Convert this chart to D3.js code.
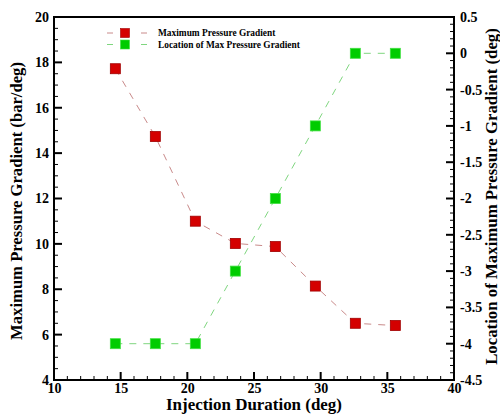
<!DOCTYPE html>
<html><head><meta charset="utf-8">
<script src="https://cdn.jsdelivr.net/npm/d3@7"></script>
<style>body{margin:0;background:#fff}svg{display:block}text{font-family:"Liberation Serif","Times New Roman",serif;font-weight:bold}</style>
</head><body>
<script>
const injection = [14.6, 17.6, 20.6, 23.6, 26.6, 29.6, 32.6, 35.6];
const maxGradient = [17.72, 14.73, 11.0, 10.02, 9.88, 8.14, 6.5, 6.4];
const locationMax = [-4, -4, -4, -3, -2, -1, 0, 0];
const seriesNames = ["Maximum Pressure Gradient", "Location of Max Pressure Gradient"];
const xTicks = [10, 15, 20, 25, 30, 35, 40];
const yLeftTicks = [4, 6, 8, 10, 12, 14, 16, 18, 20];
const yRightTicks = [0.5, 0, -0.5, -1, -1.5, -2, -2.5, -3, -3.5, -4, -4.5];

const W = 500, H = 416;
const m = {l: 54, r: 46, t: 17, b: 36};
const svg = d3.select("body").append("svg").attr("width", W).attr("height", H);
const x = d3.scaleLinear().domain([10, 40]).range([m.l, W - m.r]);
const yL = d3.scaleLinear().domain([4, 20]).range([H - m.b, m.t]);
const yR = d3.scaleLinear().domain([-4.5, 0.5]).range([H - m.b, m.t]);

// minor/major inward ticks
const g = svg.append("g");
d3.range(10, 40.001, 1).forEach(v => {
  const major = Math.abs(v % 5) < 1e-6;
  g.append("line").attr("x1", x(v)).attr("x2", x(v)).attr("y1", yL(4)).attr("y2", yL(4) - (major ? 8 : 4)).attr("stroke", "#000").attr("stroke-width", major ? 2 : 1);
});
d3.range(4, 20.001, 0.5).forEach(v => {
  const major = Math.abs(v % 2) < 1e-6;
  g.append("line").attr("x1", x(10)).attr("x2", x(10) + (major ? 8 : 4)).attr("y1", yL(v)).attr("y2", yL(v)).attr("stroke", "#000").attr("stroke-width", major ? 2 : 1);
});
d3.range(-4.5, 0.5001, 0.1).forEach(v => {
  const k = Math.round(v * 10);
  const major = k % 5 === 0;
  g.append("line").attr("x1", x(40)).attr("x2", x(40) - (major ? 8 : 4)).attr("y1", yR(v)).attr("y2", yR(v)).attr("stroke", "#000").attr("stroke-width", major ? 2 : 1);
});

// tick labels via d3 axes
const fmt = d => String(d);
const ax = svg.append("g").attr("transform", `translate(0,${H - m.b})`).call(d3.axisBottom(x).tickValues(xTicks).tickSize(0).tickPadding(3).tickFormat(fmt));
const ayl = svg.append("g").attr("transform", `translate(${m.l},0)`).call(d3.axisLeft(yL).tickValues(yLeftTicks).tickSize(0).tickPadding(5).tickFormat(fmt));
const ayr = svg.append("g").attr("transform", `translate(${W - m.r},0)`).call(d3.axisRight(yR).tickValues(yRightTicks).tickSize(0).tickPadding(6).tickFormat(fmt));
[ax, ayl, ayr].forEach(a => {
  a.select(".domain").remove();
  a.selectAll("text").style("font-family", '"Liberation Serif", serif').style("font-weight", "bold").style("font-size", "14px").attr("fill", "#000");
});

// frame
svg.append("rect").attr("x", m.l).attr("y", m.t).attr("width", W - m.l - m.r).attr("height", H - m.t - m.b)
  .attr("fill", "none").attr("stroke", "#000").attr("stroke-width", 2);

// lines
const redLine = d3.line().x((d, i) => x(injection[i])).y(d => yL(d));
const greenLine = d3.line().x((d, i) => x(injection[i])).y(d => yR(d));
svg.append("path").attr("d", redLine(maxGradient)).attr("fill", "none").attr("stroke", "#c98a8a").attr("stroke-width", 1).attr("stroke-dasharray", "7,7");
svg.append("path").attr("d", greenLine(locationMax)).attr("fill", "none").attr("stroke", "#7fd67f").attr("stroke-width", 1).attr("stroke-dasharray", "7,7");

const s = 10;
svg.append("g").selectAll("rect").data(maxGradient).join("rect")
  .attr("x", (d, i) => x(injection[i]) - s / 2).attr("y", d => yL(d) - s / 2).attr("width", s).attr("height", s)
  .attr("fill", "#d40000").attr("stroke", "#a00000").attr("stroke-width", 0.8);
svg.append("g").selectAll("rect").data(locationMax).join("rect")
  .attr("x", (d, i) => x(injection[i]) - s / 2).attr("y", d => yR(d) - s / 2).attr("width", s).attr("height", s)
  .attr("fill", "#00cc00").attr("stroke", "#40e040").attr("stroke-width", 0.8);

// legend
const legend = [{name: seriesNames[0], fill: "#d40000", stroke: "#a00000", line: "#c98a8a"}, {name: seriesNames[1], fill: "#00cc00", stroke: "#40e040", line: "#7fd67f"}];
legend.forEach((d, i) => {
  const yy = 33 + i * 11.5;
  const lg = svg.append("g");
  lg.append("line").attr("x1", 107).attr("x2", 113).attr("y1", yy).attr("y2", yy).attr("stroke", d.line).attr("stroke-width", 1);
  lg.append("line").attr("x1", 141).attr("x2", 147).attr("y1", yy).attr("y2", yy).attr("stroke", d.line).attr("stroke-width", 1);
  lg.append("rect").attr("x", 125 - 4.5).attr("y", yy - 4.5).attr("width", 9).attr("height", 9).attr("fill", d.fill).attr("stroke", d.stroke).attr("stroke-width", 0.6);
  lg.append("text").attr("x", 158).attr("y", yy + 3).attr("font-size", "9.4px").text(d.name);
});

// titles, sized to match the reference's text extents
function fit(sel, target) {
  const len = sel.node().getComputedTextLength();
  sel.attr("font-size", (16 * target / len).toFixed(2) + "px");
  return sel;
}
fit(svg.append("text").attr("x", 254).attr("y", 410).attr("text-anchor", "middle").attr("font-size", "16px").text("Injection Duration (deg)"), 176);
fit(svg.append("text").attr("transform", `translate(22,201) rotate(-90)`).attr("text-anchor", "middle").attr("font-size", "16px").text("Maximum Pressure Gradient (bar/deg)"), 278);
fit(svg.append("text").attr("transform", `translate(497,196.5) rotate(-90)`).attr("text-anchor", "middle").attr("font-size", "16px").text("Location of Maximum Pressure Gradient (deg)"), 337);
</script>
</body></html>
